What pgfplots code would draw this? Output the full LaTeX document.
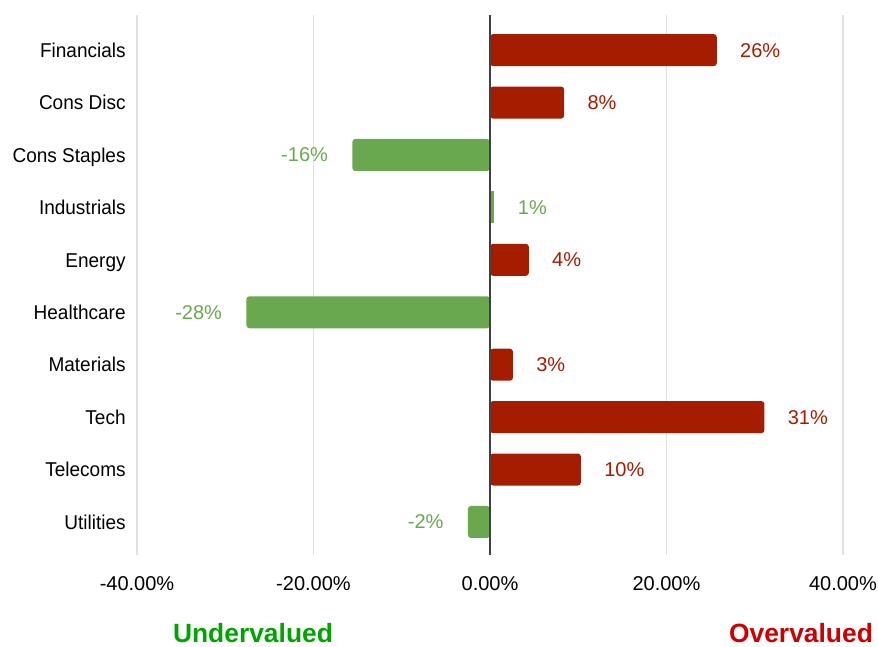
\documentclass[border=0pt]{standalone}
\usepackage{fontspec}
\setmainfont{Liberation Sans}
\newfontfamily\narrowfont{Liberation Sans}[FakeStretch=0.95]
\usepackage{pgfplots}
\pgfplotsset{compat=1.18}
\definecolor{barred}{HTML}{A61C00}
\definecolor{bargreen}{HTML}{6AA84F}
\definecolor{undergreen}{HTML}{00A300}
\definecolor{overred}{HTML}{CC0000}
\begin{document}
\begin{tikzpicture}
\path[use as bounding box] (-68.5pt,-46pt) rectangle (370.5pt,277.5pt);
\begin{axis}[
  scale only axis, width=353pt, height=270pt,
  xmin=-40, xmax=40, ymin=-0.67, ymax=9.63, y dir=reverse,
  axis line style={draw=none},
  xtick={-40,-20,0,20,40},
  xticklabels={-40.00\%,-20.00\%,0.00\%,20.00\%,40.00\%},
  ytick={0,...,9},
  yticklabels={Financials,Cons Disc,Cons Staples,Industrials,Energy,Healthcare,Materials,Tech,Telecoms,Utilities},
  major tick length=0pt,
  xmajorgrids, grid style={black!12, line width=0.6pt},
  tick label style={font=\fontsize{10}{12}\selectfont, text=black},
  xticklabel style={anchor=base, yshift=-17.5pt},
  yticklabel style={font=\narrowfont\fontsize{10}{12}\selectfont, anchor=base east, inner sep=0pt, xshift=-5.5pt, yshift=-3.6pt},
  xbar, bar width=16pt, bar shift=0pt,
  clip=false,
  nodes near coords, point meta=explicit symbolic,
  every node near coord/.append style={font=\fontsize{10}{12}\selectfont, inner sep=0pt},
]
\addplot[fill=barred, draw=none, rounded corners=1.5pt,
  every node near coord/.append style={anchor=west, xshift=11.5pt, text=barred}]
  coordinates {(25.7,0) [26\%] (8.4,1) [8\%] (4.4,4) [4\%] (2.6,6) [3\%] (31.1,7) [31\%] (10.3,8) [10\%]};
\addplot[fill=bargreen, draw=none,
  every node near coord/.append style={anchor=west, xshift=12pt, text=bargreen}]
  coordinates {(0.4,3) [1\%]};
\addplot[fill=bargreen, draw=none, rounded corners=1.5pt,
  every node near coord/.append style={anchor=east, xshift=-12pt, text=bargreen}]
  coordinates {(-15.6,2) [-16\%] (-27.6,5) [-28\%] (-2.5,9) [-2\%]};
\draw[black!75, line width=0.6pt] (axis cs:0,-0.67) -- (axis cs:0,9.63);
\end{axis}
\node[font=\fontsize{13.2}{15}\bfseries\selectfont, text=undergreen] at (58pt,-39pt) {Undervalued};
\node[font=\fontsize{13.2}{15}\bfseries\selectfont, text=overred] at (332pt,-39pt) {Overvalued};
\end{tikzpicture}
\end{document}
